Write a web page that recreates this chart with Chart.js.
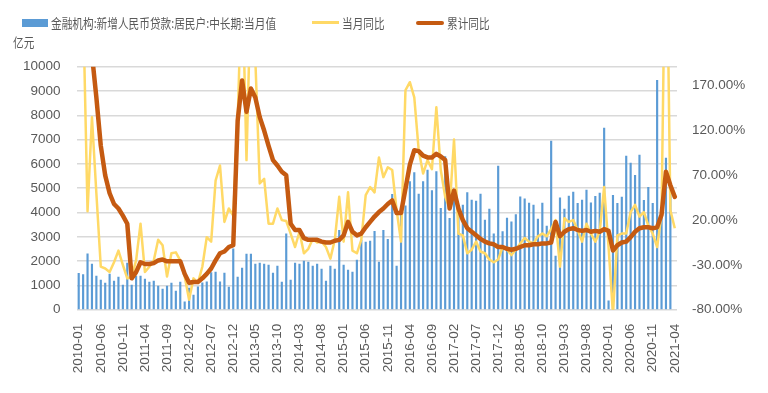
<!DOCTYPE html>
<html>
<head>
<meta charset="utf-8">
<script src="https://cdn.jsdelivr.net/npm/chart.js@4.4.1/dist/chart.umd.min.js"></script>
<style>
  html, body { margin: 0; padding: 0; background: #fff; }
  #wrap { position: relative; width: 768px; height: 393px; color: #595959; }
  #wrap canvas { position: absolute; left: 0; top: 0; }
  .lg { position: absolute; white-space: nowrap; font-family: 'Noto Sans CJK SC', sans-serif; font-size: 13px; line-height: 16px; transform: scaleX(0.82); transform-origin: 0 50%; }
  .sw { position: absolute; }
</style>
</head>
<body>
<div id="wrap">
  <canvas id="chart" width="768" height="393"></canvas>
  <div class="sw" style="left:22px;top:18.5px;width:26px;height:8px;background:#5b9bd5"></div>
  <div class="lg" style="left:51px;top:14.5px">金融机构:新增人民币贷款:居民户:中长期:当月值</div>
  <div class="sw" style="left:312px;top:21px;width:27px;height:3px;background:#ffd966"></div>
  <div class="lg" style="left:342px;top:14.5px">当月同比</div>
  <div class="sw" style="left:416px;top:20.5px;width:28px;height:4px;border-radius:2px;background:#c55a11"></div>
  <div class="lg" style="left:447px;top:14.5px">累计同比</div>
  <div class="lg" style="left:13px;top:34px">亿元</div>
</div>
<script>
// months 2010-01 .. 2021-04
const months = [];
for (let y = 2010; y <= 2021; y++) {
  for (let m = 1; m <= 12; m++) {
    if (y === 2021 && m > 4) break;
    months.push(`${y}-${String(m).padStart(2, '0')}`);
  }
}

// 当月值, 亿元
const newLoans = [
  1500, 1450, 2300, 1880, 1380, 1220, 1100, 1470, 1180, 1340, 1010, 1920,
  1010, 1380, 1380, 1260, 1140, 1180, 970, 850, 970, 1100, 770, 1140,
  320, 890, 600, 945, 1110, 1150, 1530, 1550, 1150, 1510, 930, 2510,
  1340, 1710, 2290, 2290, 1880, 1920, 1880, 1840, 1510, 1800, 1140, 3120,
  1220, 1920, 1880, 2000, 1960, 1800, 1880, 1670, 1180, 1800, 1670, 3270,
  1840, 1630, 1550, 2040, 2860, 2780, 2820, 3230, 1960, 3270, 2900, 4750,
  1800, 4260, 4270, 5270, 5640, 4760, 5270, 5750, 4900, 5680, 4170, 6300,
  3760, 4650, 4300, 4310, 4820, 4510, 4470, 4760, 3690, 4140, 3120, 5910,
  3210, 3770, 3620, 3910, 4640, 4560, 4390, 4310, 3730, 4390, 3440, 6940,
  2210, 4600, 4140, 4680, 4840, 4380, 4510, 4920, 4400, 4670, 4800, 7470,
  360, 4710, 4380, 4630, 6320, 6030, 5530, 6360, 4500, 5040, 4380, 9440,
  4150, 6240, 4860, null
];

// 当月同比, %
const monthYoy = [
  320, 260, 30, 135, 50, -32, -34, -38, -27, -14, -30, -45,
  -43, -25, 16, -38, -32, -25, -2, -8, -43, -17, -16, -25,
  -43, -69, -45, -50, -32, 1, -4, 64, 81, 18, 33, 25,
  131, 300, 87, 280, 200, 61, 66, 16, 16, 33, 20, 19,
  5, -10, 7, -17, -12, -1, -5, -4, -10, -23, -2, 46,
  -4, 51, -14, -17, -2, 48, 57, 51, 90, 68, 79, 76,
  31, -4, 165, 174, 157, 98, 72, 87, 77, 146, 76, 46,
  33, 110, 5, 3, -17, -13, -4, -15, -17, -24, -27, -24,
  -10, -13, -19, -13, -6, 0, -4, -6, 2, 5, 2, 10,
  20, -32, 22, 18, 20, 9, -4, 16, 5, -4, 7, 57,
  -10, -85, 3, 5, 5, 29, 37, 24, 29, 14, 5, -10,
  27, 400, 31, 11
];

// 累计同比, %
const cumYoy = [
  400, 320, 260, 205, 157, 103, 70, 50, 38, 33, 25, 16,
  -45, -38, -27, -29, -29, -28, -25, -24, -26, -26, -26, -26,
  -40, -50, -49, -49, -45, -40, -34, -25, -17, -15, -10, -8,
  131, 176, 141, 167, 157, 135, 120, 103, 87, 81, 74, 70,
  16, 9, 9, 0, -2, -2, -2, -4, -5, -5, -3, -2,
  3, 18, 7, 3, 5, 12, 18, 24, 29, 33, 38, 42,
  28, 28, 55, 82, 98, 97, 92, 90, 90, 94, 91, 87,
  33, 53, 33, 20, 11, 7, 3, -1, -4, -6, -7, -10,
  -10, -12, -13, -12, -10, -8, -8, -7, -7, -6, -6, -5,
  18, 2, 7, 10, 11, 9, 8, 9, 7, 8, 7, 10,
  8, -14, -8, -5, -4, 1, 7, 11, 12, 12, 11, 12,
  26, 74, 59, 46
];

const leftTicks = [0, 1000, 2000, 3000, 4000, 5000, 6000, 7000, 8000, 9000, 10000];
const rightTicks = [-80, -30, 20, 70, 120, 170];

const textColor = '#595959';
Chart.defaults.font.family = "'Liberation Sans', 'Noto Sans CJK SC', sans-serif";
Chart.defaults.font.size = 13.5;
Chart.defaults.color = textColor;

const ctx = document.getElementById('chart').getContext('2d');

new Chart(ctx, {
  data: {
    labels: months,
    datasets: [
      {
        type: 'line',
        label: '累计同比',
        data: cumYoy,
        yAxisID: 'yR',
        borderColor: '#c55a11',
        borderWidth: 4.5,
        borderCapStyle: 'round',
        borderJoinStyle: 'round',
        pointRadius: 0,
        order: 1
      },
      {
        type: 'line',
        label: '当月同比',
        data: monthYoy,
        yAxisID: 'yR',
        borderColor: '#ffd966',
        borderWidth: 2.5,
        borderJoinStyle: 'round',
        pointRadius: 0,
        order: 2
      },
      {
        type: 'bar',
        label: '金融机构:新增人民币贷款:居民户:中长期:当月值',
        data: newLoans,
        yAxisID: 'yL',
        backgroundColor: '#5b9bd5',
        barThickness: 1.5,
        order: 3
      }
    ]
  },
  options: {
    responsive: false,
    animation: false,
    layout: { padding: { top: 66.7, left: 0, right: 0, bottom: 0 } },
    plugins: {
      legend: { display: false },
      tooltip: { enabled: false }
    },
    scales: {
      x: {
        grid: { display: false },
        border: { display: false },
        ticks: {
          autoSkip: false,
          maxRotation: 90,
          minRotation: 90,
          padding: 6,
          callback: (v, i) => (i % 5 === 0 ? months[i] : '')
        },
        afterFit: scale => { scale.height = 83.3; }
      },
      yL: {
        position: 'left',
        min: 0,
        max: 10000,
        afterBuildTicks: scale => { scale.ticks = leftTicks.map(v => ({ value: v })); },
        ticks: { padding: 16, callback: v => String(v) },
        grid: { color: '#d9d9d9', lineWidth: 1.5, drawTicks: false },
        border: { display: false },
        afterFit: scale => { scale.width = 76.5; }
      },
      yR: {
        position: 'right',
        min: -80,
        max: 191.3,
        afterBuildTicks: scale => { scale.ticks = rightTicks.map(v => ({ value: v })); },
        ticks: {
          padding: 15,
          callback: v => `${v.toFixed(2)}%`
        },
        grid: { display: false, drawTicks: false },
        border: { display: false },
        afterFit: scale => { scale.width = 91; }
      }
    }
  }
});
</script>
</body>
</html>
